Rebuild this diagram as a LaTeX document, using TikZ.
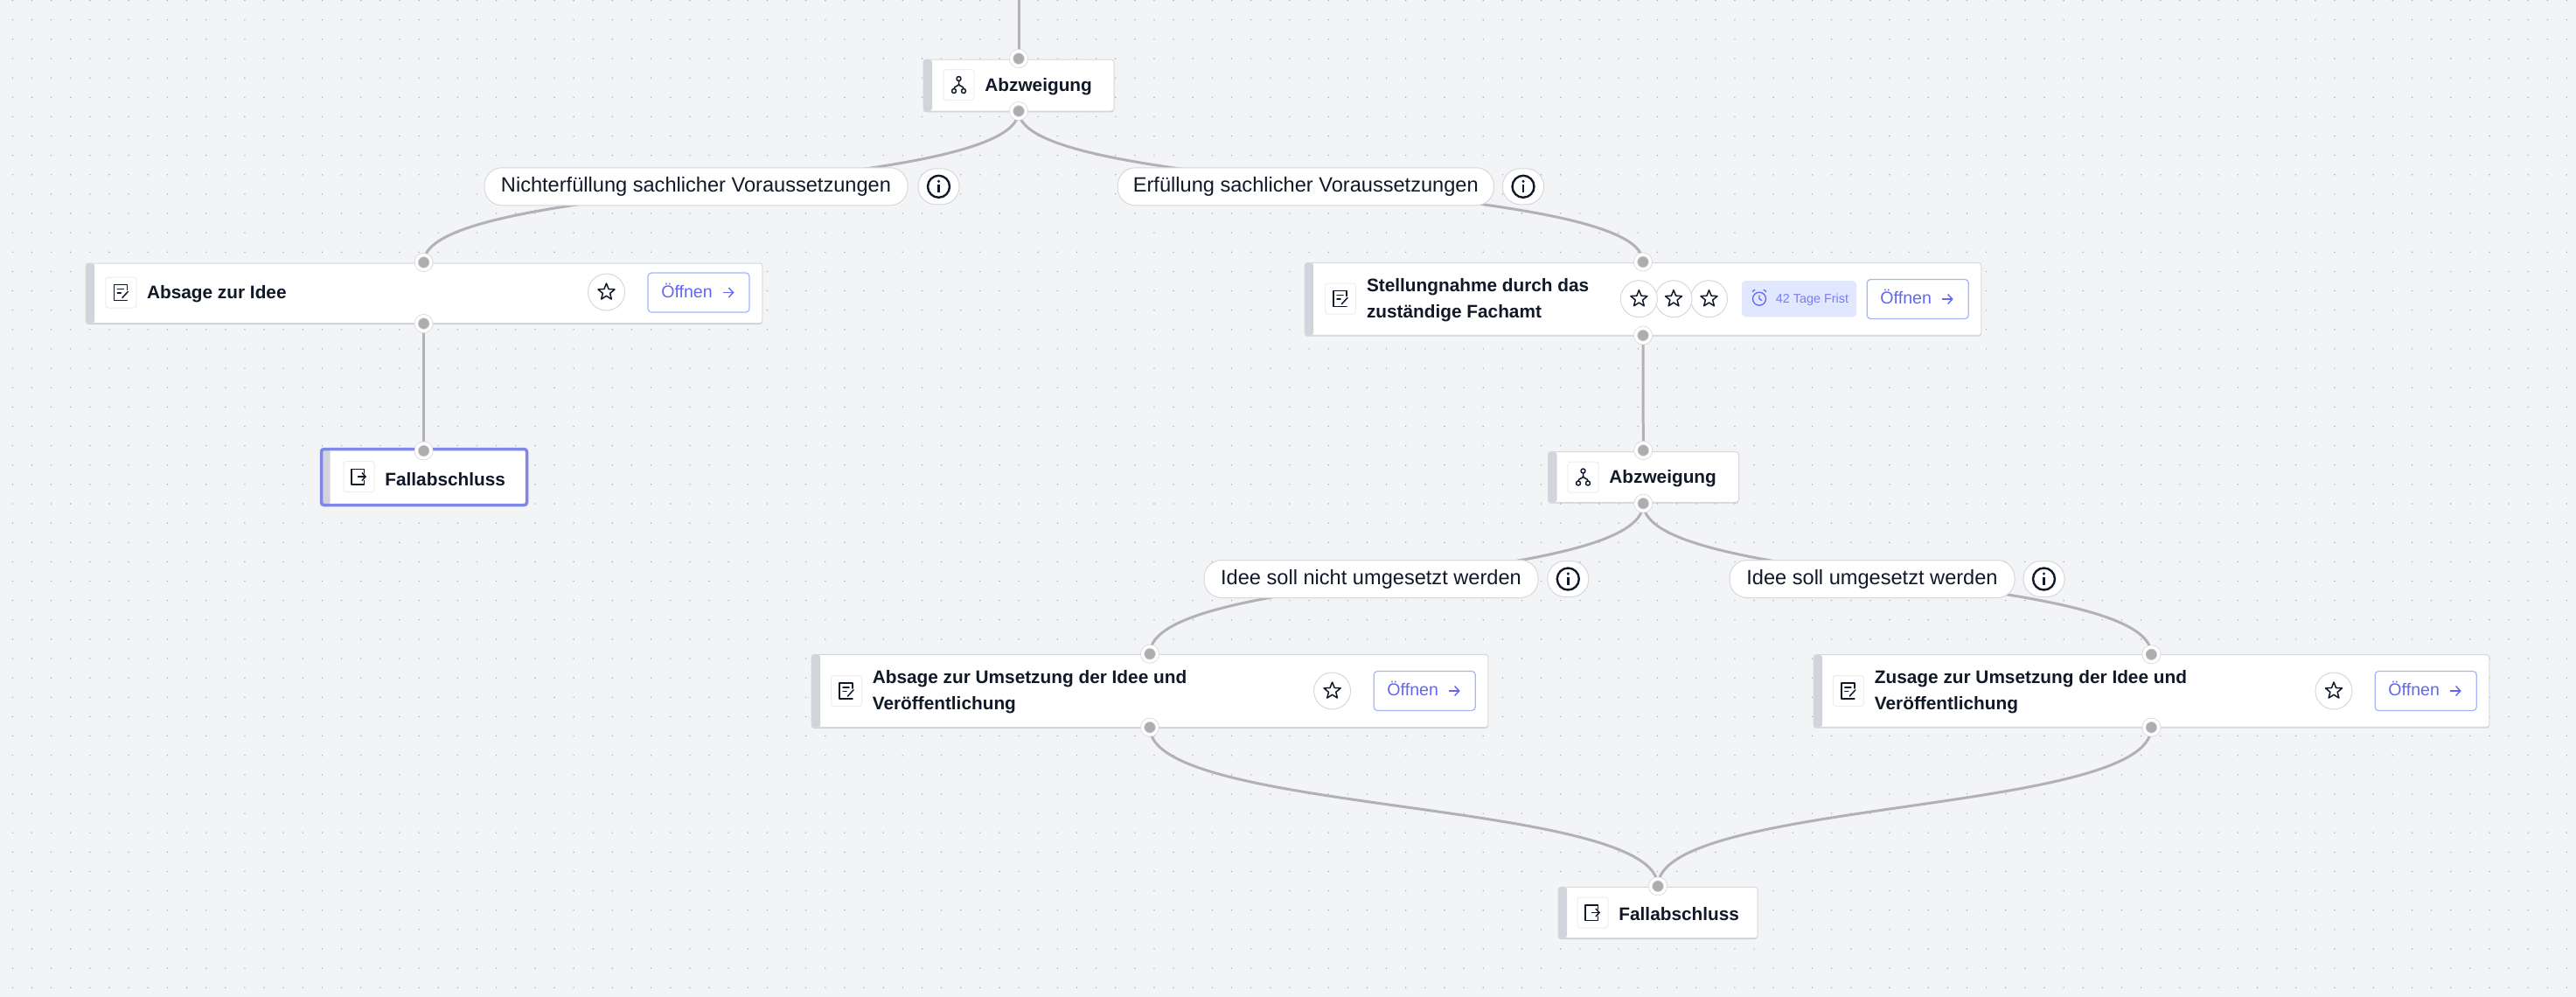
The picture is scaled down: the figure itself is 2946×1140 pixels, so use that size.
\documentclass[tikz,border=0pt]{standalone}
\usepackage{fontspec}
\setmainfont{Liberation Sans}
\usetikzlibrary{arrows.meta,backgrounds,shadows,shapes.geometric}

\definecolor{canvas}{HTML}{F3F4F6}
\definecolor{griddot}{HTML}{ABAEB5}
\definecolor{wire}{HTML}{B1B1B7}
\definecolor{ink}{HTML}{111827}
\definecolor{rim}{HTML}{D6D8DE}
\definecolor{stripe}{HTML}{D1D5DB}
\definecolor{knob}{HTML}{ADADAD}
\definecolor{violet}{HTML}{6366F1}
\definecolor{violetrim}{HTML}{A5B4FC}
\definecolor{selected}{HTML}{7F88E6}
\definecolor{fristfill}{HTML}{E0E7FF}

\tikzset{
    stepbox/.style={rectangle,rounded corners=1.5pt,fill=white,draw=rim,line width=.5pt,
        drop shadow={shadow xshift=0pt,shadow yshift=-.7pt,opacity=.45,fill=black!35},
        path picture={\fill[stripe] (path picture bounding box.north west) rectangle ([xshift=5pt]path picture bounding box.south west);}},
    iconbox/.style={rectangle,rounded corners=1.5pt,fill=white,draw=black!7,line width=.5pt,minimum size=17.5pt,inner sep=0pt},
    title/.style={anchor=west,align=left,inner sep=0pt,text=ink,font=\fontsize{10.4}{15}\selectfont\bfseries},
    pill/.style={rectangle,rounded corners=10pt,fill=white,draw=rim,line width=.5pt,minimum height=21.5pt,inner sep=0pt,text=ink,font=\fontsize{11.8}{14}\selectfont},
    infopill/.style={rectangle,rounded corners=10pt,fill=white,draw=rim,line width=.5pt,minimum width=23.5pt,minimum height=20.5pt,inner sep=0pt},
    starbtn/.style={circle,fill=white,draw=rim,line width=.5pt,minimum size=21pt,inner sep=0pt,
        label={[star,star points=5,star point ratio=2.3,draw=ink,line width=.75pt,line join=round,minimum size=10pt,inner sep=0pt]center:{}}},
    openbtn/.style={rectangle,rounded corners=2pt,fill=white,draw=violetrim,line width=.6pt,minimum width=58pt,minimum height=22.5pt,inner sep=0pt,
        text=violet,text height=5.7pt,text depth=0pt,font=\fontsize{9.8}{12}\selectfont},
    fristtag/.style={rectangle,rounded corners=2pt,fill=fristfill,minimum width=65.5pt,minimum height=20.6pt,inner sep=0pt,
        text=violet!85,text height=4.3pt,text depth=0pt,font=\fontsize{7.2}{9}\selectfont},
    handle/.style={circle,fill=knob,draw=rim,double=white,double distance=1.6pt,line width=.4pt,minimum size=8.5pt,inner sep=0pt},
    edge line/.style={draw=wire,line width=1.5pt},
    icon line/.style={draw=ink,line width=.75pt,line cap=round,line join=round},
    pics/branchicon/.style={code={
        \draw[icon line] (0,-7) circle (2.5) (-5.5,7) circle (2.5) (5.5,7) circle (2.5);
        \draw[icon line] (0,-4.5) -- (0,-1) .. controls (0,2) and (-5.5,1) .. (-5.5,4.5);
        \draw[icon line] (0,-1) .. controls (0,2) and (5.5,1) .. (5.5,4.5);
    }},
    pics/formicon/.style={code={
        \draw[icon line] (7,-3) -- (7,-9) -- (-8,-9) -- (-8,9) -- (7,9);
        \draw[icon line] (-4,-4) -- (3,-4) (-4,0.5) -- (0,0.5);
        \draw[icon line] (8,-1) -- (1.5,6);
    }},
    pics/exiticon/.style={code={
        \draw[icon line] (6,-4) -- (6,-8.5) -- (-8.5,-8.5) -- (-8.5,9) -- (6,9) -- (6,4.5);
        \draw[icon line,-{Straight Barb[length=2pt,width=4.5pt]}] (-1,0) -- (8.5,0);
    }},
    pics/infoicon/.style={code={
        \draw[draw=ink,line width=1.2pt] (0,0) circle (12.5);
        \draw[draw=ink,line width=1.3pt] (0,-2) -- (0,6.5);
        \fill[ink] (0,-6) circle (1.7);
    }},
    pics/arrowicon/.style={code={
        \draw[draw=violet,line width=.7pt,-{Straight Barb[length=2.6pt,width=5.5pt]}] (-6.5,0) -- (6.5,0);
    }},
    pics/alarmicon/.style={code={
        \draw[draw=violet,line width=.65pt] (0,0) circle (7.5);
        \draw[draw=violet,line width=.65pt] (0,-4) -- (0,0) -- (3,2);
        \draw[draw=violet,line width=.65pt] (-8,-8) -- (-5,-10.5) (8,-8) -- (5,-10.5);
    }}
}

\begin{document}
\begin{tikzpicture}[x=.5pt,y=-.5pt]
\useasboundingbox (0,0) rectangle (2946,1140);

% boxes
\node[stepbox,minimum width=109pt,minimum height=29.5pt] (Abz1) at (1165,97.5) {};
\node[stepbox,minimum width=386.8pt,minimum height=34.3pt] (Abs) at (485,335.3) {};
\node[stepbox,minimum width=117.5pt,minimum height=32pt,draw=selected,line width=1.75pt] (End1) at (485,545.5) {};
\node[stepbox,minimum width=386.8pt,minimum height=41.3pt] (Stell) at (1879,342) {};
\node[stepbox,minimum width=109pt,minimum height=28.8pt] (Abz2) at (1879.5,545.5) {};
\node[stepbox,minimum width=386.8pt,minimum height=41.6pt] (AbsU) at (1315,790) {};
\node[stepbox,minimum width=386.4pt,minimum height=41.3pt] (Zus) at (2460.4,790) {};
\node[stepbox,minimum width=114pt,minimum height=29.2pt] (End2) at (1896,1043.5) {};

% icons and titles
\node[iconbox] (IAbz1) at (1096.5,97) {};
\node[iconbox] (IAbs) at (138.3,334.5) {};
\node[iconbox] (IEnd1) at (410.5,545) {};
\node[iconbox] (IStell) at (1533,341.5) {};
\node[iconbox] (IAbz2) at (1810.5,545.5) {};
\node[iconbox] (IAbsU) at (968,790) {};
\node[iconbox] (IZus) at (2113.8,790) {};
\node[iconbox] (IEnd2) at (1821.5,1043.5) {};
\pic at (IAbz1) {branchicon};
\pic at (IAbz2) {branchicon};
\pic at (IAbs) {formicon};
\pic at (IStell) {formicon};
\pic at (IAbsU) {formicon};
\pic at (IZus) {formicon};
\pic at (IEnd1) {exiticon};
\pic at (IEnd2) {exiticon};

\node[title] (TAbz1) at (1126,99) {Abzweigung};
\node[title] (TAbs) at (167.7,336) {Absage zur Idee};
\node[title] (TEnd1) at (440,548) {Fallabschluss};
\node[title] (TStell) at (1562.6,343.5) {Stellungnahme durch das\\zuständige Fachamt};
\node[title] (TAbz2) at (1840,547) {Abzweigung};
\node[title] (TAbsU) at (997.4,791.5) {Absage zur Umsetzung der Idee und\\Veröffentlichung};
\node[title] (TZus) at (2143.5,791.5) {Zusage zur Umsetzung der Idee und\\Veröffentlichung};
\node[title] (TEnd2) at (1851,1045) {Fallabschluss};

% stars, tag and buttons
\node[starbtn] (SAbs) at (693.5,334) {};
\node[starbtn] (SStellC) at (1954.5,341.7) {};
\node[starbtn] (SStellB) at (1914,341.7) {};
\node[starbtn] (SStellA) at (1874.4,341.7) {};
\node[starbtn] (SAbsU) at (1523.6,790) {};
\node[starbtn] (SZus) at (2669,790) {};
\node[fristtag] (Frist) at (2057.5,341.7) {\hspace*{15pt}42 Tage Frist};
\pic at ([xshift=-22.75pt]Frist.center) {alarmicon};
\node[openbtn] (BAbs) at (799,334.5) {\mbox{Öffnen\hspace{13.5pt}}};
\node[openbtn] (BStell) at (2193.2,342) {\mbox{Öffnen\hspace{13.5pt}}};
\node[openbtn] (BAbsU) at (1629.2,790) {\mbox{Öffnen\hspace{13.5pt}}};
\node[openbtn] (BZus) at (2774.2,790) {\mbox{Öffnen\hspace{13.5pt}}};
\pic at ([xshift=17pt]BAbs.center) {arrowicon};
\pic at ([xshift=17pt]BStell.center) {arrowicon};
\pic at ([xshift=17pt]BAbsU.center) {arrowicon};
\pic at ([xshift=17pt]BZus.center) {arrowicon};

% labels on the branches
\node[pill,minimum width=242pt] (LNicht) at (796,213.3) {Nichterfüllung sachlicher Voraussetzungen};
\node[pill,minimum width=215pt] (LErf) at (1493.3,213.3) {Erfüllung sachlicher Voraussetzungen};
\node[pill,minimum width=191pt] (LNein) at (1568,662) {Idee soll nicht umgesetzt werden};
\node[pill,minimum width=163pt] (LJa) at (2141,662) {Idee soll umgesetzt werden};
\node[infopill] (INicht) at (1073.5,213.3) {};
\node[infopill] (IErf) at (1742,213.3) {};
\node[infopill] (INein) at (1793.3,662) {};
\node[infopill] (IJa) at (2337.5,662) {};
\pic at (INicht) {infoicon};
\pic at (IErf) {infoicon};
\pic at (INein) {infoicon};
\pic at (IJa) {infoicon};

% handles
\coordinate (Top) at (1165,0);
\node[handle] (Abz1in) at (1165,67) {};
\node[handle] (Abz1out) at (1165,127) {};
\node[handle] (Absin) at (484.6,300) {};
\node[handle] (Absout) at (484.6,370) {};
\node[handle] (End1in) at (484.6,515.5) {};
\node[handle] (Stellin) at (1879,299.5) {};
\node[handle] (Stellout) at (1879,383.5) {};
\node[handle] (Abz2in) at (1879.3,515) {};
\node[handle] (Abz2out) at (1879.3,575.7) {};
\node[handle] (AbsUin) at (1315,747.7) {};
\node[handle] (AbsUout) at (1315,831.7) {};
\node[handle] (Zusin) at (2460.4,748.3) {};
\node[handle] (Zusout) at (2460.4,831.7) {};
\node[handle] (End2in) at (1896,1013.3) {};

\begin{scope}[on background layer]
    \fill[canvas] (0,0) rectangle (2946,1140);
    \foreach \i in {0,...,132}
        \foreach \j in {0,...,51}
            \fill[griddot] ({14.35+22.13*\i},{0.6+22.13*\j}) circle (.8);
    \draw[edge line] (Top) -- (Abz1in.center);
    \draw[edge line] (Abz1out.center) .. controls +(0,96) and +(0,-96) .. (Absin.center);
    \draw[edge line] (Abz1out.center) .. controls +(0,96) and +(0,-96) .. (Stellin.center);
    \draw[edge line] (Absout.center) -- (End1in.center);
    \draw[edge line] (Stellout.center) -- (Abz2in.center);
    \draw[edge line] (Abz2out.center) .. controls +(0,96) and +(0,-96) .. (AbsUin.center);
    \draw[edge line] (Abz2out.center) .. controls +(0,96) and +(0,-96) .. (Zusin.center);
    \draw[edge line] (AbsUout.center) .. controls +(0,100) and +(0,-100) .. (End2in.center);
    \draw[edge line] (Zusout.center) .. controls +(0,100) and +(0,-100) .. (End2in.center);
\end{scope}
\end{tikzpicture}
\end{document}
